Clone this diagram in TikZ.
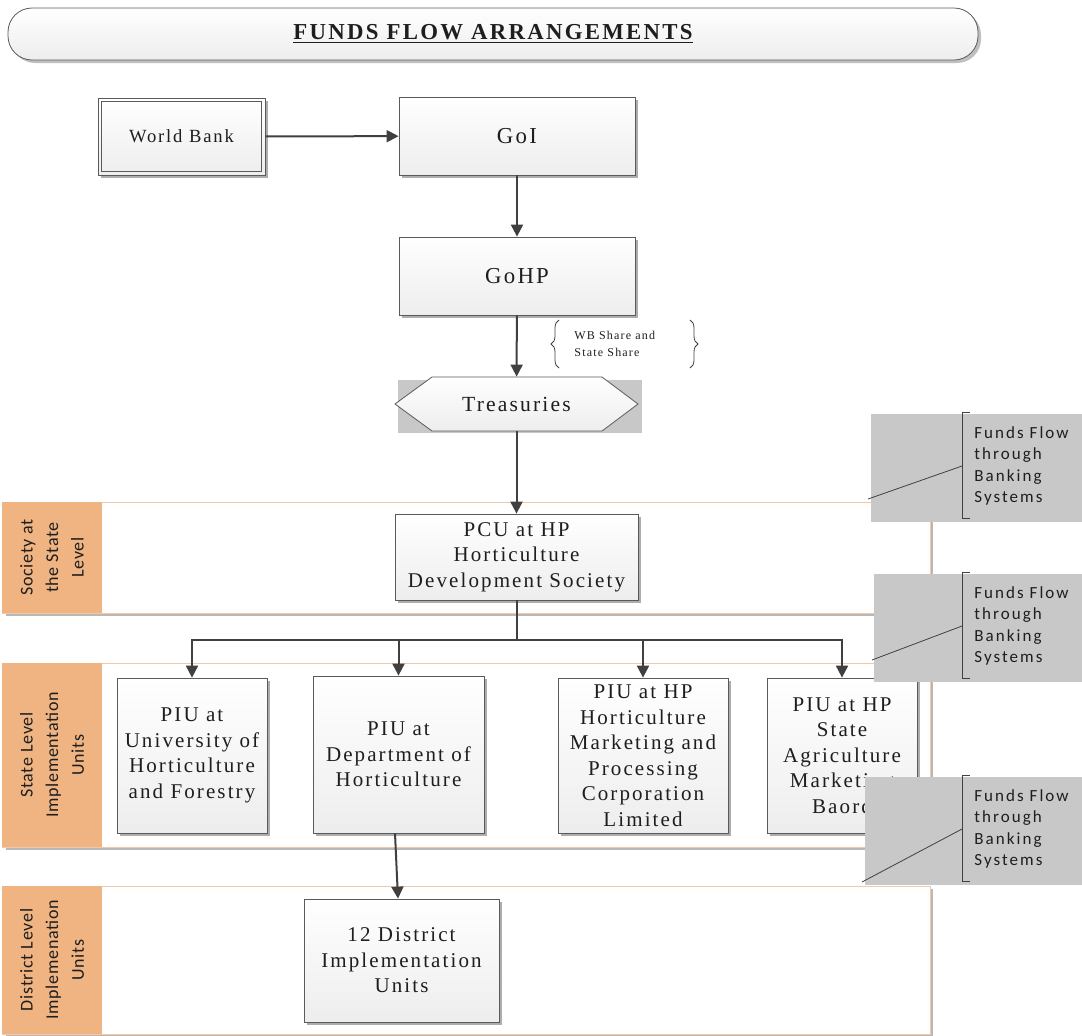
\documentclass[tikz,border=0pt]{standalone}
\usepackage{fontspec}
\setmainfont{Liberation Serif}
\newfontfamily\boxfont[LetterSpace=10]{Liberation Serif}
\newfontfamily\lanefont[LetterSpace=4]{Carlito}
\newfontfamily\notefont[LetterSpace=12]{Carlito}
\usetikzlibrary{calc,shadows,arrows.meta,decorations.pathreplacing}
\definecolor{lanepeach}{RGB}{240,180,130}
\definecolor{laneline}{RGB}{244,200,165}
\definecolor{notegray}{RGB}{200,200,200}
\definecolor{linegray}{RGB}{64,64,64}
\definecolor{boxline}{RGB}{90,90,90}
\definecolor{inkgray}{RGB}{30,30,30}
\newcommand{\swimlane}[4]{
	\fill[black!28] (6,#2+3) rectangle (933,#3+3);
	\filldraw[draw=laneline, fill=white] (2,#2) rectangle (930,#3);
	\fill[lanepeach] (2,#2) rectangle (102,#3);
	\node[lanelabel] (#1) at (52,{(#2+#3)/2}) {#4};
}
\newcommand{\banknote}[5]{
	\fill[notegray] (#3,#2) rectangle (1082,#2+108);
	\draw[noteline] (970,#2-2) -- (962,#2-2) -- (962,#2+104) -- (970,#2+104);
	\coordinate (#1mid) at (962,#2+52);
	\coordinate (#1end) at (#4,#5);
	\node[notetext] (#1) at (974,#2+52) {Funds Flow\\through\\Banking\\Systems};
	\draw[noteline] (#1mid) -- (#1end);
}

\begin{document}
\begin{tikzpicture}[x=0.5pt,y=-0.5pt,
	shade box/.style={draw=boxline, top color=white, bottom color=black!7},
	box/.style={shade box, align=center, inner sep=2pt, text=inkgray,
		font=\boxfont\fontsize{10.5}{12.75}\selectfont,
		drop shadow={shadow xshift=1.6pt, shadow yshift=-1.6pt, fill=black!32, opacity=1}},
	lanelabel/.style={rotate=90, align=center, inner sep=0pt, text=inkgray,
		font=\lanefont\fontsize{9}{12.8}\selectfont},
	notetext/.style={anchor=west, align=left, inner sep=0pt, text=inkgray,
		font=\notefont\fontsize{8.5}{10.8}\selectfont},
	noteline/.style={draw=linegray, line width=0.4pt},
	flow/.style={draw=linegray, line width=1pt, -{Triangle[length=6pt,width=6pt]}}]
	\useasboundingbox (0,0) rectangle (1082,1035);

	\node[shade box, rounded corners=12pt, minimum width=485pt, minimum height=26pt,
		drop shadow={shadow xshift=1.5pt, shadow yshift=-1.5pt, fill=black!25, opacity=1, rounded corners=0pt},
		font=\boxfont\bfseries\fontsize{11.4}{13}\selectfont, text=inkgray] (title) at (493,34)
		{\underline{FUNDS FLOW ARRANGEMENTS}};

	\swimlane{lanesociety}{502}{613}{Society at\\the State\\Level}
	\swimlane{lanestate}{663}{847}{State Level\\Implementation\\Units}
	\swimlane{lanedistrict}{886}{1034}{District Level\\Implemenation\\Units}

	\node[box, minimum width=83.5pt, minimum height=38.5pt,
		font=\boxfont\fontsize{9.3}{11}\selectfont] (wb) at (181.5,136.5) {World Bank};
	\draw[boxline] ($(wb.north west)+(4,4)$) rectangle ($(wb.south east)+(-4,-4)$);
	\node[box, minimum width=118pt, minimum height=39pt, font=\boxfont\fontsize{11.4}{14}\selectfont] (goi) at (517,136) {GoI};
	\node[box, minimum width=118pt, minimum height=39pt, font=\boxfont\fontsize{11.4}{14}\selectfont] (gohp) at (517,276) {GoHP};

	\fill[notegray] (398,380) rectangle (642,433);
	\path[shade box] (395,404) -- (432,377) -- (602,377) -- (638,404) -- (602,431) -- (432,431) -- cycle;
	\node[minimum width=121pt, minimum height=27pt, inner sep=0pt, text=inkgray,
		font=\boxfont\fontsize{10.8}{13}\selectfont] (treas) at (516.5,404) {Treasuries};

	\draw[noteline, decorate, decoration={brace, amplitude=4pt}] (559,368) -- (559,320);
	\draw[noteline, decorate, decoration={brace, amplitude=4pt}] (690,320) -- (690,368);
	\node[anchor=west, align=left, inner sep=0pt, text=inkgray,
		font=\boxfont\fontsize{6}{8.3}\selectfont] (share) at (574,344) {WB Share and\\State Share};

	\node[box, minimum width=121.5pt, minimum height=43pt] (pcu) at (516.5,557)
		{PCU at HP\\Horticulture\\Development Society};
	\node[box, minimum width=75pt, minimum height=77.5pt] (piu1) at (192,755.5)
		{PIU at\\University of\\Horticulture\\and Forestry};
	\node[box, minimum width=85.5pt, minimum height=78.5pt] (piu2) at (398.5,754.5)
		{PIU at\\Department of\\Horticulture};
	\node[box, minimum width=85pt, minimum height=77.5pt] (piu3) at (643,755.5)
		{PIU at HP\\Horticulture\\Marketing and\\Processing\\Corporation\\Limited};
	\node[box, minimum width=75pt, minimum height=77.5pt] (piu4) at (842,755.5)
		{PIU at HP\\State\\Agriculture\\Marketing\\Baord};
	\node[box, minimum width=97.5pt, minimum height=61.5pt] (dist) at (401.5,960.5)
		{12 District\\Implementation\\Units};

	\draw[flow] (wb) -- (goi);
	\draw[flow] (goi) -- (gohp);
	\draw[flow] (gohp) -- (treas);
	\draw[flow] (treas) -- (pcu);
	\coordinate (split) at (516.5,640);
	\draw[draw=linegray, line width=1pt] (pcu) -- (split);
	\foreach \piu in {piu1,piu2,piu3,piu4}
		\draw[flow] (split) -| (\piu);
	\draw[flow] ($(piu2.south)+(-3.5,0)$) -- ($(dist.north)+(-3.5,0)$);

	\banknote{note1}{414}{871}{868}{499}
	\banknote{note2}{574}{874}{872}{660}
	\banknote{note3}{777}{865}{862}{882}
\end{tikzpicture}
\end{document}
